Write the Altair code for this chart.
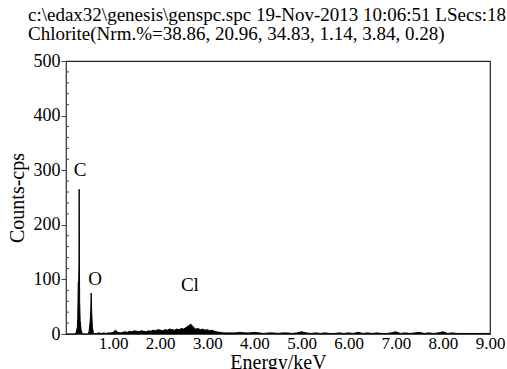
import altair as alt
import pandas as pd

# Spectrum (energy keV, counts cps)
peak_energy = [0.00, 0.20, 0.22, 0.24, 0.25, 0.26, 0.27, 0.275, 0.28, 0.285, 0.29, 0.30, 0.32, 0.34, 0.36,
               0.47, 0.49, 0.51, 0.525, 0.535, 0.545, 0.56, 0.58]
peak_counts = [0, 0, 4, 12, 30, 95, 97, 128, 265, 128, 60, 25, 8, 2, 0,
               0, 5, 20, 40, 75, 40, 12, 3]

bg_energy = [0.60, 0.65, 0.70, 0.75, 0.80, 0.85, 0.90, 0.95, 1.00, 1.05, 1.10, 1.15, 1.20, 1.25, 1.30, 1.35,
             1.40, 1.45, 1.50, 1.55, 1.60, 1.65, 1.70, 1.75, 1.80, 1.85, 1.90, 1.95, 2.00, 2.05, 2.10, 2.15,
             2.20, 2.25, 2.30, 2.35, 2.40, 2.45, 2.50, 2.55, 2.60, 2.65, 2.70, 2.75, 2.80, 2.85, 2.90, 2.95,
             3.00, 3.05, 3.10, 3.15, 3.20, 3.25, 3.30, 3.35, 3.40, 3.50, 3.60, 3.70, 3.80, 3.90, 4.00, 4.10,
             4.20, 4.30, 4.40, 4.50, 4.60, 4.70, 4.80, 4.90, 5.00, 5.10, 5.20, 5.30, 5.40, 5.50, 5.60, 5.70,
             5.80, 5.90, 6.00, 6.10, 6.20, 6.30, 6.40, 6.50, 6.60, 6.70, 6.80, 6.90, 7.00, 7.10, 7.20, 7.30,
             7.40, 7.50, 7.60, 7.70, 7.80, 7.90, 8.00, 8.10, 8.20, 8.30, 8.40, 8.50, 8.60, 8.70, 8.80, 8.90, 9.00]
bg_counts = [1, 1, 2, 1, 2, 1, 2, 2, 3, 7, 3, 2, 3, 4, 3, 5,
             4, 6, 5, 4, 6, 5, 4, 6, 5, 7, 6, 8, 7, 6, 8, 7,
             9, 8, 7, 9, 8, 10, 9, 12, 15, 18, 13, 9, 10, 8, 9, 7,
             8, 6, 7, 5, 4, 3, 3, 2, 2, 2, 2, 3, 2, 2, 3, 2,
             1, 2, 2, 1, 2, 2, 1, 2, 4, 2, 1, 2, 1, 2, 1, 1,
             2, 1, 2, 1, 3, 1, 2, 1, 2, 1, 1, 2, 4, 1, 2, 1,
             2, 3, 1, 2, 1, 2, 4, 1, 2, 1, 1, 1, 1, 1, 1, 1, 1]

label_text = ["C", "O", "Cl"]
label_energy = [0.30, 0.62, 2.63]
label_counts = [300, 100, 90]

minor_ticks = [v for v in range(20, 500, 20) if v % 100 != 0]
x_ticks = [1, 2, 3, 4, 5, 6, 7, 8, 9]

FONT = "Liberation Serif"

spec = pd.DataFrame({"energy": peak_energy + bg_energy, "counts": peak_counts + bg_counts})
labels = pd.DataFrame({"text": label_text, "energy": label_energy, "counts": label_counts})
minor = pd.DataFrame({"v": minor_ticks})

xscale = alt.Scale(domain=[0, 9], nice=False)
yscale = alt.Scale(domain=[0, 500], nice=False)

area = alt.Chart(spec).mark_area(color="black", opacity=1,
                                 line={"color": "black", "strokeWidth": 1}).encode(
    x=alt.X("energy:Q", scale=xscale,
            axis=alt.Axis(title="Energy/keV", values=x_ticks, format=".2f", tickSize=0,
                          labelPadding=1, labelOverlap=False, labelFlush=False, titlePadding=1,
                          labelFontSize=17, titleFontSize=20, grid=False)),
    y=alt.Y("counts:Q", scale=yscale,
            axis=alt.Axis(title="Counts-cps", values=[0, 100, 200, 300, 400, 500], tickSize=5,
                          labelPadding=1, labelOverlap=False, labelFlush=False, grid=False,
                          titleX=-39, titleFontSize=20)),
)

text = alt.Chart(labels).mark_text(font=FONT, fontSize=19, color="black").encode(
    x=alt.X("energy:Q", scale=xscale),
    y=alt.Y("counts:Q", scale=yscale),
    text="text:N",
)

minor_rules = alt.Chart(minor).mark_rule(color="#444", strokeWidth=1).encode(
    x=alt.value(0), x2=alt.value(3),
    y=alt.Y("v:Q", scale=yscale),
)

chart = alt.layer(area, minor_rules, text).properties(
    width=424, height=273,
    title=alt.TitleParams(
        text=["c:\\edax32\\genesis\\genspc.spc 19-Nov-2013 10:06:51 LSecs:18",
              "Chlorite(Nrm.%=38.86, 20.96, 34.83, 1.14, 3.84, 0.28)"],
        anchor="start", frame="group", dx=-38, offset=8, font=FONT, fontSize=19,
        fontWeight="normal", color="black", lineHeight=19),
    autosize=alt.AutoSizeParams(type="none"),
    padding={"left": 66, "top": 61, "right": 17, "bottom": 35},
).configure_view(stroke="#222", strokeWidth=1.2).configure_axis(
    labelFont=FONT, titleFont=FONT, labelFontSize=18,
    labelColor="black", titleColor="black", titleFontWeight="normal",
    domainColor="#444", tickColor="#444",
)

chart.save("out.html", embed_options={"renderer": "svg", "actions": False})
